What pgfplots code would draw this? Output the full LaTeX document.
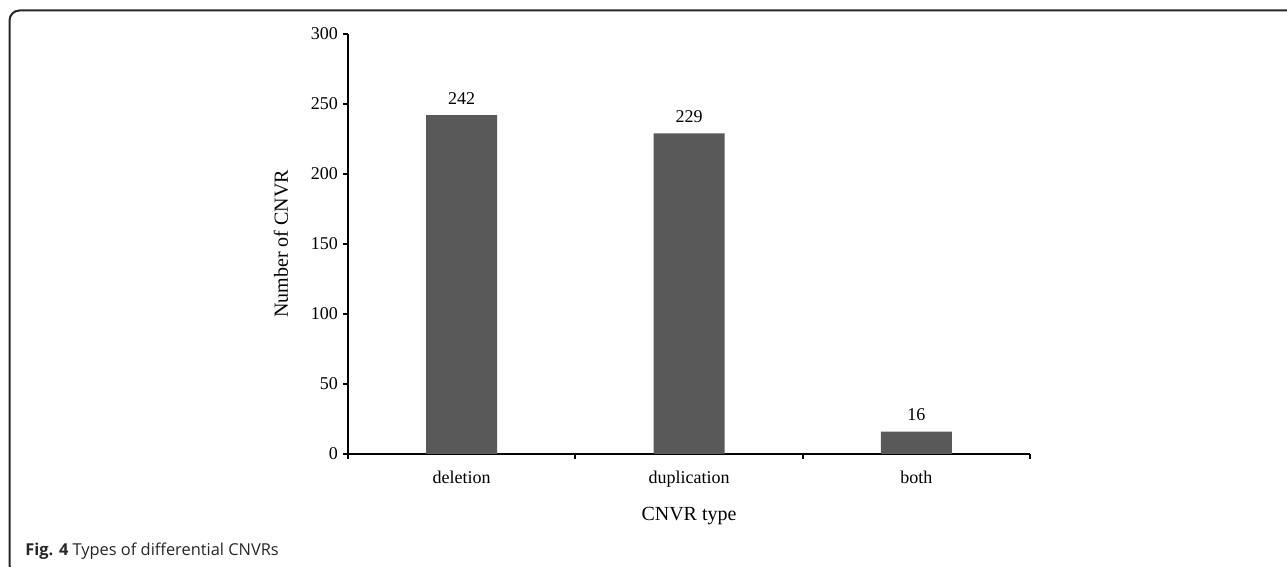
\documentclass[border=0pt]{standalone}
\usepackage{fontspec}
\setmainfont{Liberation Serif}
\newfontfamily\capfont{Open Sans}
\usepackage{pgfplots}
\pgfplotsset{compat=1.18}

\begin{document}
\begin{tikzpicture}
% 1 px of the reference = 0.5pt, origin at bottom left
\clip (0pt,0pt) rectangle (643.5pt,283.5pt);
\path[use as bounding box] (0pt,0pt) rectangle (643.5pt,283.5pt);
% outer frame of the figure
\draw[line width=1pt, black!85, rounded corners=5pt] (4.75pt,278.25pt) rectangle (665pt,-4pt);

\begin{axis}[
    at={(174pt,56.5pt)}, anchor=south west,
    scale only axis,
    width=341pt, height=210pt,
    ybar, bar width=35.5pt,
    xmin=-0.5, xmax=2.5,
    ymin=0, ymax=300,
    ytick={0,50,...,300},
    xtick={-0.5,0.5,1.5,2.5},
    xticklabels={},
    extra x ticks={0,1,2},
    extra x tick labels={deletion,duplication,both},
    extra x tick style={major tick length=0pt},
    axis lines*=left,
    axis line style={line width=0.9pt},
    tick style={line width=0.9pt, black},
    tick align=outside,
    major tick length=2.5pt,
    /pgf/number format/assume math mode=true,
    tick label style={font=\fontsize{9}{10}\selectfont},
    xticklabel style={yshift=-5pt},
    yticklabel style={xshift=1pt},
    xlabel={CNVR type},
    ylabel={Number of CNVR},
    label style={font=\fontsize{10}{12}\selectfont},
    every axis x label/.style={at={(axis description cs:0.5,0)}, yshift=-31pt, anchor=center},
    every axis y label/.style={at={(axis description cs:0,0.5)}, xshift=-33.5pt, rotate=90, anchor=center},
    nodes near coords,
    every node near coord/.append style={font=\fontsize{9}{10}\selectfont, black, yshift=2pt},
]
\addplot[fill=black!65, draw=none] coordinates {
    (0,242)
    (1,229)
    (2,16)
};
\end{axis}

\node[anchor=base west, font=\capfont\fontsize{8.2}{9}\selectfont, text=black!85, inner sep=0pt] at (12.5pt,5.5pt)
    {\textbf{Fig. 4} Types of differential CNVRs};
\end{tikzpicture}
\end{document}
